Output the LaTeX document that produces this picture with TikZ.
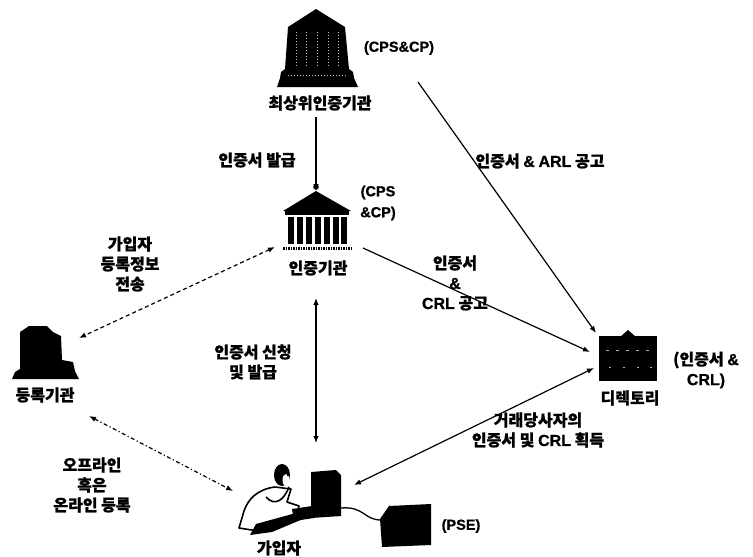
\documentclass[tikz,border=0pt]{standalone}
\usepackage{fontspec}
\setmainfont{Noto Sans CJK KR}[BoldFeatures={FakeBold=0.8}]
\newfontfamily\lat{Liberation Sans}[BoldFeatures={FakeBold=0.8}]
\usetikzlibrary{arrows.meta}
\begin{document}
\begin{tikzpicture}[x=1pt,y=-1pt,
  lbl/.style={font=\bfseries\fontsize{16}{20}\selectfont, align=center, inner sep=0pt},
  note/.style={font=\lat\bfseries\fontsize{14.5}{21}\selectfont, align=center, inner sep=0pt},
  iconbox/.style={inner sep=0pt, minimum width=#1, minimum height=#1},
  tip/.tip={Latex[length=7pt,width=5.5pt]},
  link/.style={line width=1.2pt, -tip},
  twoway/.style={line width=1.2pt, tip-tip},
  dashlink/.style={twoway, dash pattern=on 4pt off 3pt},
  dotdash/.style={twoway, dash pattern=on 4pt off 2.5pt on 1.2pt off 2.5pt}
]
\useasboundingbox (0,0) rectangle (753,557);

% ---------- root certification authority ----------
\node[iconbox=72pt] (root) at (317,48) {};
\fill (316,9) -- (345,27) -- (349,69) -- (353,72) -- (354,78) -- (358,87)
  -- (277,87) -- (280,78) -- (281,72) -- (285,69) -- (288,27) -- cycle;
\foreach \x in {296,306,317,328,338}
  \draw[white!75!black, line width=0.5pt, dash pattern=on 1pt off 2pt] (\x,32) -- (\x,66);
\draw[white!75!black, line width=0.5pt, dash pattern=on 1pt off 2pt] (288,75) -- (348,75);
\node[lbl] (rootlbl) at (320,103) {최상위인증기관};
\node[note] (rootcp) at (399,48) {(CPS\&CP)};

% ---------- certification authority ----------
\node[iconbox=66pt] (ca) at (317,219) {};
\fill (316,187) circle (2.8pt);
\fill (283,211) -- (316,191) -- (351,211) -- cycle;
\fill (285,211) rectangle (349,215);
\foreach \x in {291,300,309,318,327,336,344}
  \fill (\x-3,217) rectangle (\x+3,244);
\draw[line width=3pt, dash pattern=on 1.6pt off 0.9pt] (283,248) -- (352,248);
\node[lbl] (calbl) at (318,268) {인증기관};
\node[note] (cacp) at (378,203) {(CPS\\\&CP)};

% ---------- registration authority ----------
\node[iconbox=62pt] (ra) at (45,351) {};
\fill (12,379) -- (15,372) -- (20,369) -- (20,332) -- (29,326) -- (47,326)
  -- (53,332) -- (61,336) -- (62,360) -- (73,362) -- (75,371) -- (79,379) -- cycle;
\node[lbl] (ralbl) at (45,395) {등록기관};

% ---------- directory ----------
\node[iconbox=58pt] (dir) at (628,356) {};
\fill (599,336) rectangle (657,381);
\fill (620,337) -- (628,330) -- (636,337) -- cycle;
\foreach \x in {606,616,626,636,646}
  \fill[white!70!black] (\x,350) rectangle +(3,0.8);
\foreach \x in {609,623,637,650}
  \fill[white!70!black] (\x,367) rectangle +(2,0.8);
\node[lbl] (dirlbl) at (630,398) {디렉토리};
\node[lbl] (dirnote) at (706,370) {(인증서 {\lat\&}\\{\lat CRL)}};

% ---------- subscriber at the workstation ----------
\node[iconbox=64pt] (user) at (270,496) {};
% body
\filldraw[fill=white, line width=1.6pt, line join=round]
  (275,487) .. controls (258,489) and (248,499) .. (244,511)
  -- (239,528) -- (258,531) -- (276,521) -- (297,515) -- (299,506)
  -- (287,502) -- (291,489) -- cycle;
% raised arm holding the phone
\draw[line width=1.6pt] (266,497) .. controls (275,507) and (284,500) .. (289,487);
% legs
\fill (256,524) -- (296,513) -- (303,519) -- (272,532) -- (250,535) -- cycle;
% head and hair
\fill (282,475) ellipse (8pt and 11pt);
\fill[white] (286,480) ellipse (3.5pt and 6pt);
\fill (288,475) circle (1.3pt);
% keyboard and monitor
\fill (292,509) -- (312,506) -- (314,518) -- (294,521) -- cycle;
\fill (311,472) -- (336,470) -- (341,475) -- (341,516) -- (311,518) -- cycle;
% cable to the personal security device
\draw[line width=1.3pt] (341,508) .. controls (364,506) and (364,520) .. (381,520);
\node[iconbox=46pt] (pse) at (406,526) {};
\fill (380,519) -- (389,506) -- (431,504) -- (431,545) -- (382,547) -- cycle;
\node[note] (pselbl) at (461,526) {(PSE)};
\node[lbl] (userlbl) at (279,548) {가입자};

% ---------- connector end points ----------
\coordinate (rootA) at (316,117);
\coordinate (caTop) at (316,191);
\coordinate (rootB) at (418,82);
\coordinate (dirA) at (596,333);
\coordinate (caB) at (363,248);
\coordinate (dirB) at (590,352);
\coordinate (caC) at (275,247);
\coordinate (raA) at (79,338);
\coordinate (caD) at (316,298);
\coordinate (userA) at (316,443);
\coordinate (raB) at (89,416);
\coordinate (userB) at (233,491);
\coordinate (userC) at (354,485);
\coordinate (dirC) at (594,368);

% ---------- connectors ----------
\draw[link] (rootA) -- (caTop);
\draw[link] (rootB) -- (dirA);
\draw[link] (caB) -- (dirB);
\draw[dashlink] (caC) -- (raA);
\draw[twoway] (caD) -- (userA);
\draw[dotdash] (raB) -- (userB);
\draw[twoway] (userC) -- (dirC);

% ---------- connector labels ----------
\node[lbl] (l1) at (257,160) {인증서 발급};
\node[lbl] (l2) at (540,161) {인증서 {\lat\&} {\lat ARL} 공고};
\node[lbl] (l3) at (455,283) {인증서\\{\lat\&}\\{\lat CRL} 공고};
\node[lbl] (l4) at (130,264) {가입자\\등록정보\\전송};
\node[lbl] (l5) at (253,362) {인증서 신청\\및 발급};
\node[lbl] (l6) at (92,485) {오프라인\\혹은\\온라인 등록};
\node[lbl] (l7) at (538,430) {거래당사자의\\인증서 및 {\lat CRL} 획득};
\end{tikzpicture}
\end{document}
